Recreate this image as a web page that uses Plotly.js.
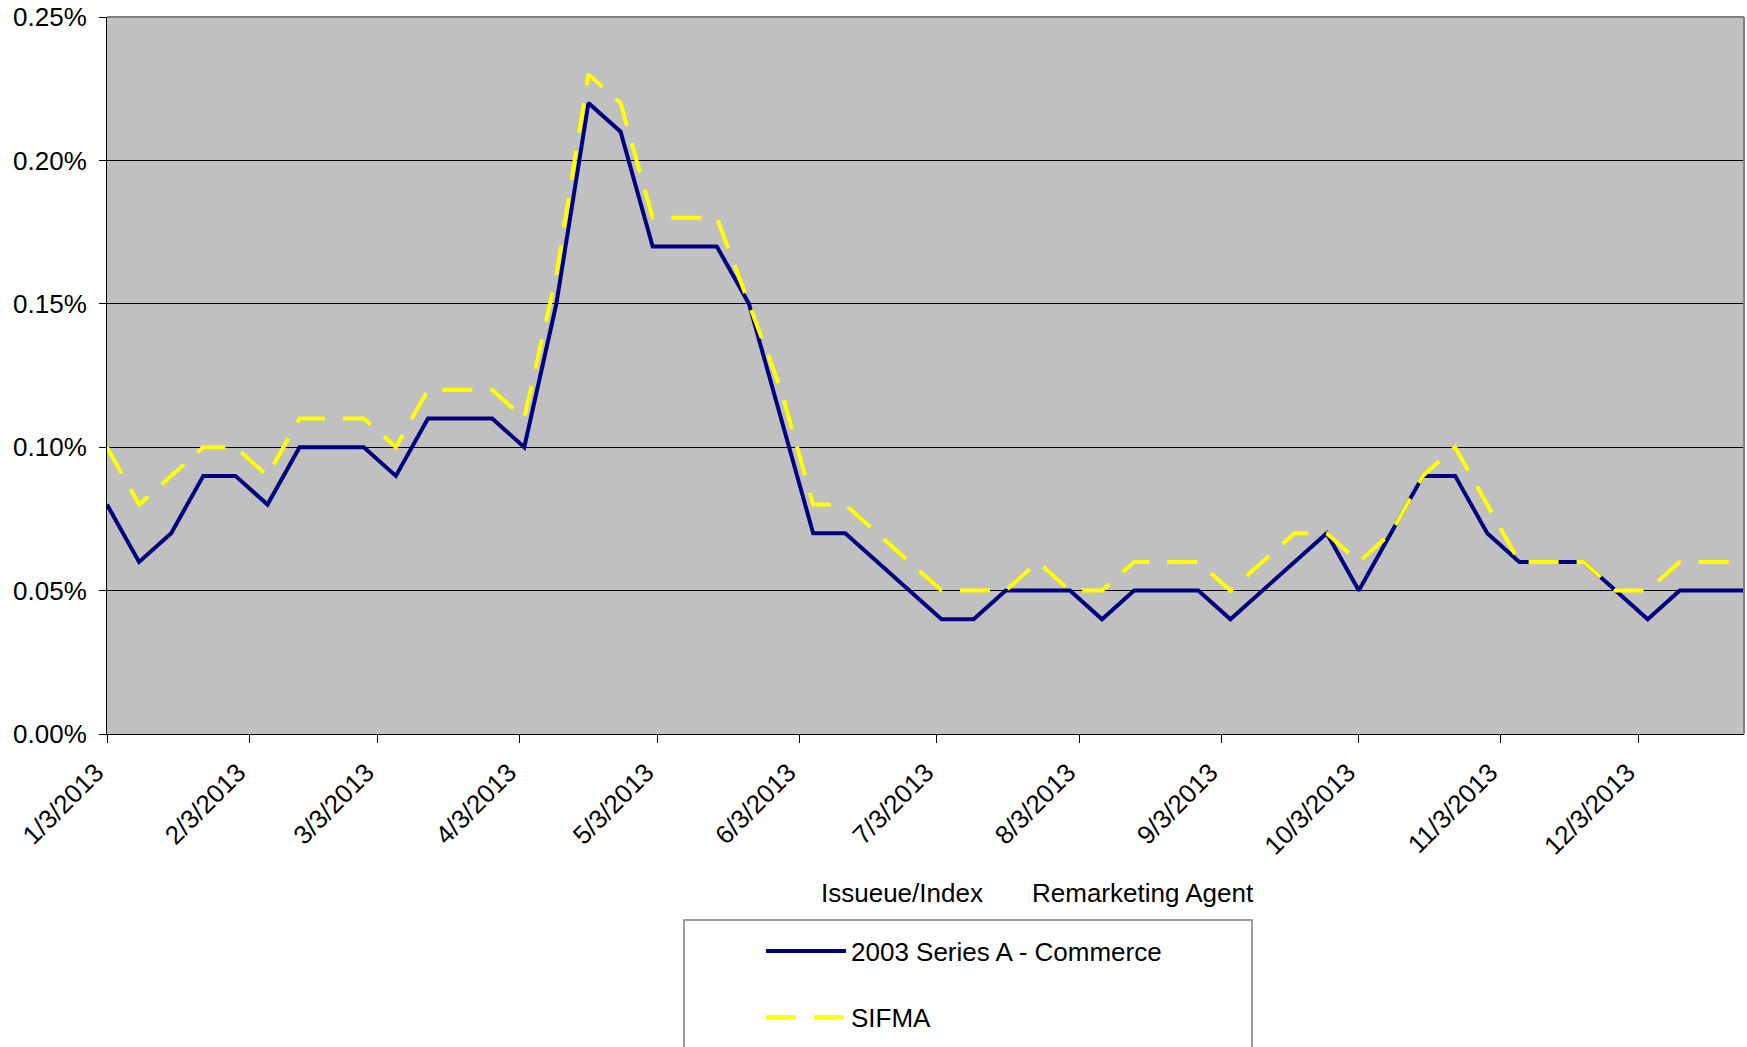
<!DOCTYPE html>
<html>
<head>
<meta charset="utf-8">
<script src="https://cdn.plot.ly/plotly-3.0.1.min.js"></script>
<style>
  html, body { margin: 0; padding: 0; background: #ffffff; }
  #chart { width: 1747px; height: 1047px; }
</style>
</head>
<body>
<div id="chart"></div>
<script>
// Weekly observation dates (Thursdays, 2013)
const dates = [
  '2013-01-03','2013-01-10','2013-01-17','2013-01-24','2013-01-31',
  '2013-02-07','2013-02-14','2013-02-21','2013-02-28',
  '2013-03-07','2013-03-14','2013-03-21','2013-03-28',
  '2013-04-04','2013-04-11','2013-04-18','2013-04-25',
  '2013-05-02','2013-05-09','2013-05-16','2013-05-23','2013-05-30',
  '2013-06-06','2013-06-13','2013-06-20','2013-06-27',
  '2013-07-04','2013-07-11','2013-07-18','2013-07-25',
  '2013-08-01','2013-08-08','2013-08-15','2013-08-22','2013-08-29',
  '2013-09-05','2013-09-12','2013-09-19','2013-09-26',
  '2013-10-03','2013-10-10','2013-10-17','2013-10-24','2013-10-31',
  '2013-11-07','2013-11-14','2013-11-21','2013-11-28',
  '2013-12-05','2013-12-12','2013-12-19','2013-12-26'
];

// Rates in percent
const commerce = [
  0.08,0.06,0.07,0.09,0.09,
  0.08,0.10,0.10,0.10,
  0.09,0.11,0.11,0.11,
  0.10,0.15,0.22,0.21,
  0.17,0.17,0.17,0.15,0.11,
  0.07,0.07,0.06,0.05,
  0.04,0.04,0.05,0.05,
  0.05,0.04,0.05,0.05,0.05,
  0.04,0.05,0.06,0.07,
  0.05,0.07,0.09,0.09,0.07,
  0.06,0.06,0.06,0.05,
  0.04,0.05,0.05,0.05
];

const sifma = [
  0.10,0.08,0.09,0.10,0.10,
  0.09,0.11,0.11,0.11,
  0.10,0.12,0.12,0.12,
  0.11,0.16,0.23,0.22,
  0.18,0.18,0.18,0.15,0.12,
  0.08,0.08,0.07,0.06,
  0.05,0.05,0.05,0.06,
  0.05,0.05,0.06,0.06,0.06,
  0.05,0.06,0.07,0.07,
  0.06,0.07,0.09,0.10,0.08,
  0.06,0.06,0.06,0.05,
  0.05,0.06,0.06,0.06
];

const tickDates = ['2013-01-03','2013-02-03','2013-03-03','2013-04-03','2013-05-03','2013-06-03',
                   '2013-07-03','2013-08-03','2013-09-03','2013-10-03','2013-11-03','2013-12-03'];
const tickLabels = ['1/3/2013','2/3/2013','3/3/2013','4/3/2013','5/3/2013','6/3/2013',
                    '7/3/2013','8/3/2013','9/3/2013','10/3/2013','11/3/2013','12/3/2013'];

const FONT = 'Liberation Sans, Arial, sans-serif';
const FS = 26;

const traces = [
  {
    x: dates, y: commerce, type: 'scatter', mode: 'lines',
    name: '2003 Series A - Commerce',
    line: { color: '#000080', width: 4 },
    legend: 'legend'
  },
  {
    x: dates, y: sifma, type: 'scatter', mode: 'lines',
    name: 'SIFMA',
    line: { color: '#FFFF00', width: 4, dash: '30px,18px' },
    legend: 'legend2'
  }
];

const W = 1747, H = 1047, L = 107, R = 3, T = 17, B = 313;
const pw = W - L - R, ph = H - T - B;
const px = v => (v - L) / pw;
const py = v => (H - B - v) / ph;

const layout = {
  width: W, height: H,
  margin: { l: L, r: R, t: T, b: B, pad: 0 },
  paper_bgcolor: '#ffffff',
  plot_bgcolor: '#C0C0C0',
  font: { family: FONT, size: FS, color: '#000000' },
  showlegend: true,
  xaxis: {
    type: 'date',
    range: ['2013-01-03', '2013-12-26'],
    tickmode: 'array', tickvals: tickDates, ticktext: tickLabels,
    tickangle: -45,
    ticks: 'outside', ticklen: 8, tickwidth: 1, tickcolor: '#000000',
    ticklabelstandoff: 4,
    ticklabelshift: -11,
    showline: true, linecolor: '#000000', linewidth: 1,
    showgrid: false, zeroline: false,
    tickfont: { family: FONT, size: FS, color: '#000000' },
    fixedrange: true
  },
  yaxis: {
    range: [0, 0.25], dtick: 0.05, tick0: 0,
    tickformat: '.2f', ticksuffix: '%',
    ticks: 'outside', ticklen: 7, tickwidth: 1, tickcolor: '#000000',
    ticklabelstandoff: 7,
    showline: true, linecolor: '#000000', linewidth: 1,
    showgrid: true, gridcolor: '#000000', gridwidth: 1,
    zeroline: false,
    tickfont: { family: FONT, size: FS, color: '#000000' },
    fixedrange: true
  },
  legend: {
    x: px(761), y: py(951), xanchor: 'left', yanchor: 'middle',
    bgcolor: 'rgba(0,0,0,0)', borderwidth: 0,
    font: { family: FONT, size: FS, color: '#000000' },
    itemwidth: 80
  },
  legend2: {
    x: px(761), y: py(1017), xanchor: 'left', yanchor: 'middle',
    bgcolor: 'rgba(0,0,0,0)', borderwidth: 0,
    font: { family: FONT, size: FS, color: '#000000' },
    itemwidth: 80
  },
  shapes: [
    // plot-area border (top and right edges)
    { type: 'line', xref: 'paper', yref: 'paper', x0: 0, x1: 1, y0: 1, y1: 1,
      line: { color: '#808080', width: 2 }, layer: 'above' },
    { type: 'line', xref: 'paper', yref: 'paper', x0: 1, x1: 1, y0: 0, y1: 1,
      line: { color: '#808080', width: 2 }, layer: 'above' },
    // legend box
    { type: 'rect', xref: 'paper', yref: 'paper',
      x0: px(684), x1: px(1252), y0: py(920), y1: py(1080),
      line: { color: '#808080', width: 1.5 }, fillcolor: 'rgba(0,0,0,0)' }
  ],
  annotations: [
    { xref: 'paper', yref: 'paper', x: px(819), y: py(893), xanchor: 'left', yanchor: 'middle',
      text: 'Issueue/Index', showarrow: false,
      font: { family: FONT, size: FS, color: '#000000' } },
    { xref: 'paper', yref: 'paper', x: px(1030), y: py(893), xanchor: 'left', yanchor: 'middle',
      text: 'Remarketing Agent', showarrow: false,
      font: { family: FONT, size: FS, color: '#000000' } }
  ]
};

Plotly.newPlot('chart', traces, layout, { displayModeBar: false, staticPlot: true });
</script>
</body>
</html>
